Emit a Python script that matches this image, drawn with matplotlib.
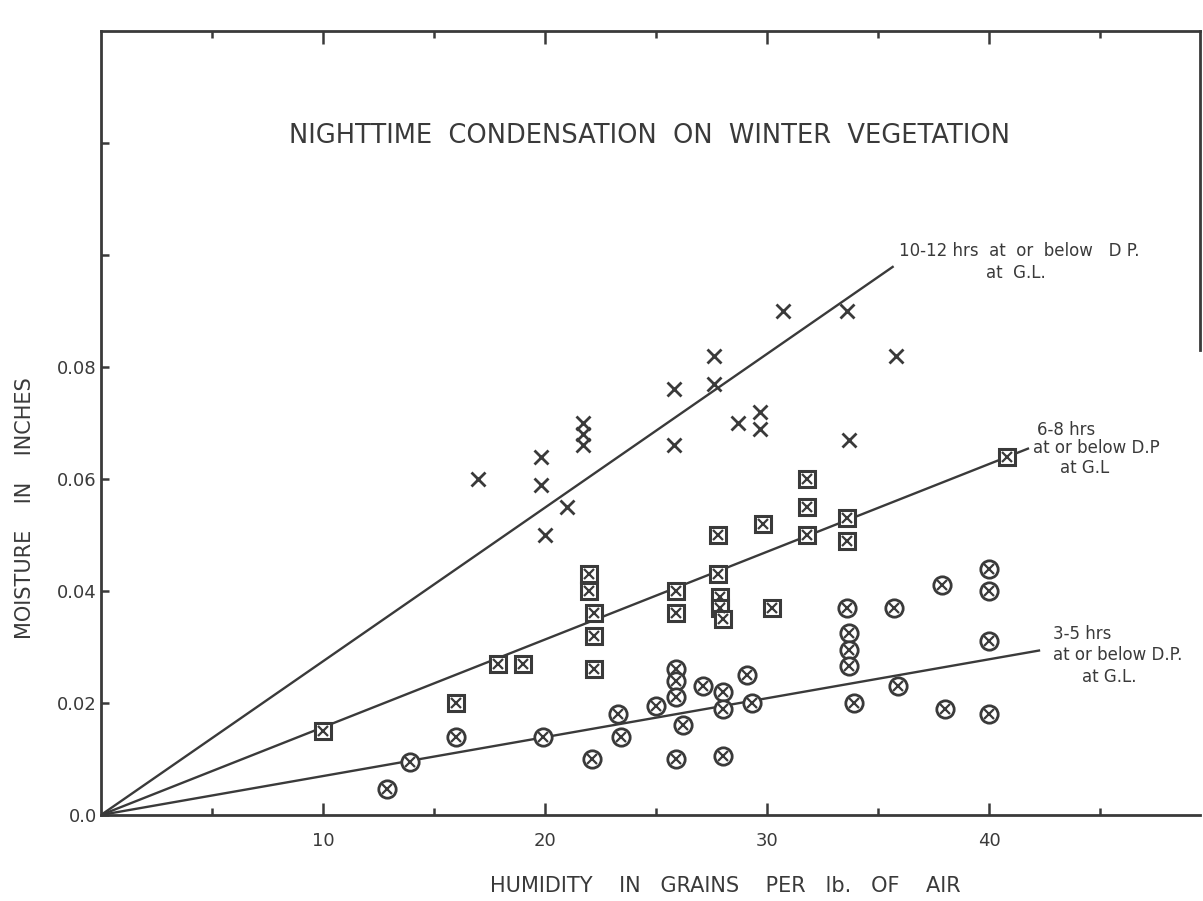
import matplotlib
matplotlib.use("Agg")
import matplotlib.pyplot as plt
from matplotlib.ticker import FixedLocator

# ---------------- data ----------------
# 10-12 hrs at or below D.P. (x markers)
x_10_12 = [17.0, 19.8, 19.8, 21.0, 20.0, 21.7, 21.7, 21.7, 25.8, 27.6, 27.6,
           25.8, 28.7, 29.7, 29.7, 30.7, 33.6, 35.8, 33.7]
y_10_12 = [0.060, 0.064, 0.059, 0.055, 0.050, 0.070, 0.068, 0.066, 0.076, 0.082,
           0.077, 0.066, 0.070, 0.072, 0.069, 0.090, 0.090, 0.082, 0.067]

# 6-8 hrs (boxed x markers)
x_6_8 = [10.0, 16.0, 17.9, 19.0, 22.0, 22.0, 22.2, 22.2, 22.2, 25.9, 25.9, 27.8,
         27.8, 27.9, 27.9, 28.0, 29.8, 30.2, 31.8, 31.8, 31.8, 33.6, 33.6, 40.8]
y_6_8 = [0.0150, 0.020, 0.027, 0.027, 0.043, 0.040, 0.036, 0.032, 0.026, 0.040,
         0.036, 0.050, 0.043, 0.039, 0.037, 0.035, 0.052, 0.037, 0.060, 0.055,
         0.050, 0.053, 0.049, 0.064]

# 3-5 hrs (circled x markers)
x_3_5 = [12.9, 13.9, 16.0, 19.9, 22.1, 23.3, 23.4, 25.0, 25.9, 25.9, 25.9, 26.2,
         25.9, 27.1, 28.0, 28.0, 28.0, 29.1, 29.3, 33.6, 33.7, 33.7, 33.7, 33.9,
         35.7, 35.9, 37.9, 38.0, 40.0, 40.0, 40.0, 40.0]
y_3_5 = [0.0046, 0.0095, 0.014, 0.014, 0.010, 0.018, 0.014, 0.0195, 0.026, 0.024,
         0.021, 0.016, 0.010, 0.023, 0.022, 0.019, 0.0105, 0.025, 0.020, 0.037,
         0.0325, 0.0295, 0.0266, 0.020, 0.037, 0.023, 0.041, 0.019, 0.044, 0.040,
         0.031, 0.018]

# fitted lines from origin: end points
line_end_x = [35.7, 41.8, 42.3]
line_end_y = [0.098, 0.0655, 0.0294]

x_ticks_major = [10, 20, 30, 40]
x_tick_labels = ["10", "20", "30", "40"]
x_ticks_minor = [5, 15, 25, 35, 45]
y_ticks = [0.0, 0.02, 0.04, 0.06, 0.08, 0.10, 0.12]
y_tick_labels = ["0.0", "0.02", "0.04", "0.06", "0.08", "", ""]

INK = "#3a3a3a"

# ---------------- figure ----------------
fig = plt.figure(figsize=(12.03, 9.01), dpi=100)
ax = fig.add_axes([0.084, 0.0955, 0.9135, 0.870])
ax.set_xlim(0, 49.5)
ax.set_ylim(0, 0.140)

for s in ["left", "bottom", "top", "right"]:
    ax.spines[s].set_color(INK)
    ax.spines[s].set_linewidth(2.0)
ax.spines["right"].set_bounds(0.083, 0.140)

# lines
for xe, ye in zip(line_end_x, line_end_y):
    ax.plot([0, xe], [0, ye], color=INK, lw=1.7, zorder=2, solid_capstyle="butt")

# x markers
ax.plot(x_10_12, y_10_12, linestyle="none", marker="x", ms=10, mew=2.0,
        color=INK, zorder=3)

# boxed x markers
ax.plot(x_6_8, y_6_8, linestyle="none", marker="s", ms=11, mew=2.2,
        mec=INK, mfc="white", zorder=4)
ax.plot(x_6_8, y_6_8, linestyle="none", marker="x", ms=7, mew=1.6,
        color=INK, zorder=5)

# circled x markers
ax.plot(x_3_5, y_3_5, linestyle="none", marker="o", ms=12.5, mew=2.0,
        mec=INK, mfc="white", zorder=4)
ax.plot(x_3_5, y_3_5, linestyle="none", marker="x", ms=7, mew=1.6,
        color=INK, zorder=5)

# ticks
ax.xaxis.set_major_locator(FixedLocator(x_ticks_major))
ax.xaxis.set_minor_locator(FixedLocator(x_ticks_minor))
ax.set_xticklabels(x_tick_labels)
ax.yaxis.set_major_locator(FixedLocator(y_ticks))
ax.set_yticklabels(y_tick_labels)
ax.tick_params(axis="both", which="both", direction="in", color=INK,
               labelcolor=INK, labelsize=13, width=1.8)
ax.tick_params(axis="x", which="major", length=9, pad=12)
ax.tick_params(axis="x", which="minor", length=5)
ax.tick_params(axis="x", which="both", top=True, labeltop=False)
ax.tick_params(axis="y", which="major", length=6, pad=3)

# labels
fig.text(0.021, 0.436, "MOISTURE    IN    INCHES", rotation=90, ha="center",
         va="center", fontsize=15, color=INK)
fig.text(0.603, 0.0167, "HUMIDITY    IN   GRAINS    PER   lb.   OF    AIR",
         ha="center", va="center", fontsize=15, color=INK)
fig.text(0.540, 0.849, "NIGHTTIME  CONDENSATION  ON  WINTER  VEGETATION",
         ha="center", va="center", fontsize=18.5, color=INK)

# annotations (x pixel, center y pixel)
W, H = 1203.0, 901.0
def ptext(x, y, s, ha="left"):
    fig.text(x / W, 1 - y / H, s, ha=ha, va="center", fontsize=12, color=INK)

ptext(899, 251, "10-12 hrs  at  or  below   D P.")
ptext(1016, 273, "at  G.L.", ha="center")
ptext(1037, 430, "6-8 hrs")
ptext(1033, 448, "at or below D.P")
ptext(1085, 468, "at G.L", ha="center")
ptext(1053, 634, "3-5 hrs")
ptext(1053, 655, "at or below D.P.")
ptext(1109, 677, "at G.L.", ha="center")

fig.savefig("out.png", dpi=100, facecolor="white")
